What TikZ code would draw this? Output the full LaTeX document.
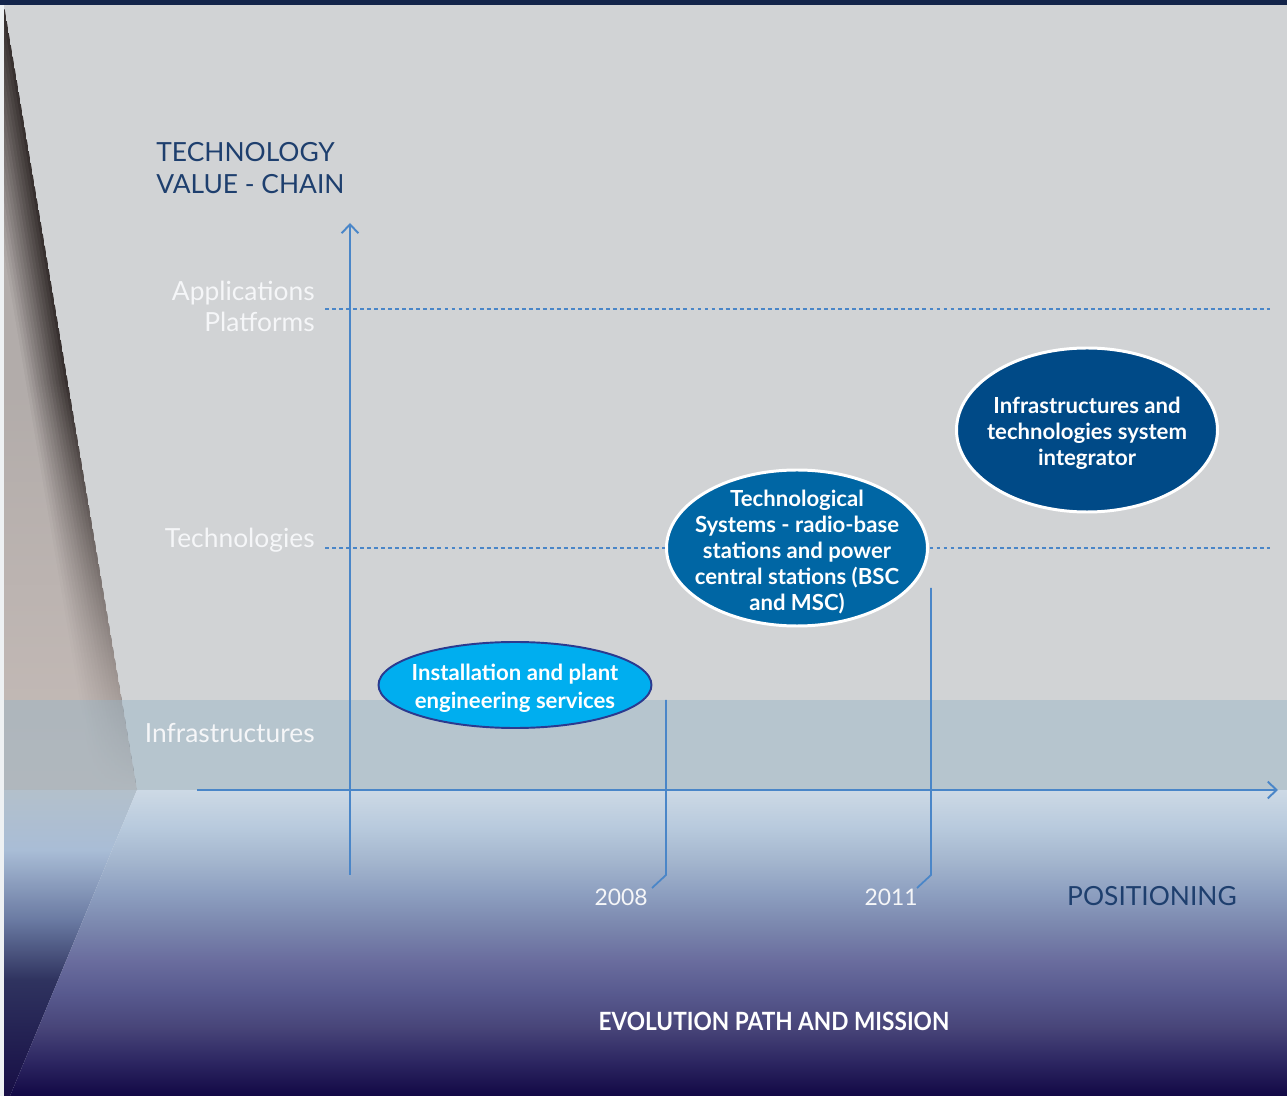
\documentclass[tikz,border=0pt]{standalone}
\usepackage{fontspec}
\setmainfont{Lato}
\newfontfamily\condfont{Lato}[FakeStretch=0.9]
\usepackage{tikz}
\usetikzlibrary{arrows.meta,shapes.geometric,fadings}

\definecolor{edgewhite}{HTML}{EEF1F3}
\definecolor{topnavy}{HTML}{13244A}
\definecolor{panelgray}{HTML}{D1D3D5}
\definecolor{wedgelight}{HTML}{B2ACAA}
\definecolor{wedgedark}{HTML}{383130}
\definecolor{wedgepale}{HTML}{C6BCB8}
\definecolor{bandblue}{HTML}{97B4C6}
\definecolor{axisblue}{HTML}{4A86C8}
\definecolor{titleblue}{HTML}{1E3F6E}
\definecolor{labelwhite}{HTML}{F5F6F8}
\definecolor{skyblue}{HTML}{00AEEF}
\definecolor{inkblue}{HTML}{2B3A8F}
\definecolor{midblue}{HTML}{0066A4}
\definecolor{deepblue}{HTML}{004A87}
% horizon colours
\definecolor{hzA}{HTML}{120845}
\definecolor{hzB}{HTML}{2E2863}
\definecolor{hzC}{HTML}{484579}
\definecolor{hzD}{HTML}{585A8F}
\definecolor{hzE}{HTML}{6A6D9E}
\definecolor{hzF}{HTML}{7A86AD}
\definecolor{hzG}{HTML}{8D9FC0}
\definecolor{hzH}{HTML}{A4B6CE}
\definecolor{hzI}{HTML}{B8CADD}
\definecolor{hzJ}{HTML}{CDD9E5}
\definecolor{lwA}{HTML}{170E45}
\definecolor{lwB}{HTML}{2F335F}
\definecolor{lwC}{HTML}{6A7AA2}
\definecolor{lwD}{HTML}{A9BDD6}
\definecolor{lwE}{HTML}{B3C0CB}

\pgfdeclareverticalshading{horizon}{100bp}{color(0bp)=(hzA);
  color(25bp)=(hzA); color(30.9bp)=(hzB); color(36.25bp)=(hzC);
  color(41.85bp)=(hzD); color(47.2bp)=(hzE); color(52.6bp)=(hzF);
  color(58.15bp)=(hzG); color(63.55bp)=(hzH); color(68.95bp)=(hzI);
  color(75bp)=(hzJ); color(100bp)=(hzJ)}
\pgfdeclareverticalshading{lowwedge}{100bp}{color(0bp)=(lwA);
  color(25bp)=(lwA); color(43.95bp)=(lwB); color(53.75bp)=(lwC);
  color(65.2bp)=(lwD); color(75bp)=(lwE); color(100bp)=(lwE)}

\tikzstyle{valueaxis} = [axisblue,line width=1.1pt,-{Straight Barb[length=5pt,width=9.5pt]}]
\tikzstyle{levelline} = [axisblue,line width=0.85pt,dash pattern=on 2.2pt off 1.8pt]
\tikzstyle{yearline} = [axisblue,line width=1pt]
\tikzstyle{bubble} = [ellipse,inner sep=0pt]
\tikzstyle{bubbletext} = [text=white,align=center,inner sep=0pt]
\tikzstyle{levellabel} = [anchor=east,align=right,inner sep=0pt,text=labelwhite,
  font=\fontsize{15}{17.6}\selectfont]
\tikzstyle{yearlabel} = [inner sep=0pt,text=labelwhite,font=\fontsize{13}{15}\selectfont]

\begin{document}
\begin{tikzpicture}[x=0.2mm,y=-0.2mm]

		% define constants
		\def \W {1287}
		\def \H {1096}
		\def \hz {790}
		\def \bandtop {700}

		\useasboundingbox (0,0) rectangle (\W,\H);

		% Draw the background
		\fill[edgewhite] (0,0) rectangle (\W,\H);
		\fill[topnavy] (0,0) rectangle (\W,5);
		\fill[panelgray] (4,5) rectangle (\W,\hz);

		% Draw the wedge on the left
		\begin{scope}
		\clip (4,5) -- (137,\hz) -- (4,\hz) -- cycle;
		\foreach \d in {0,3,...,138} {
			\pgfmathtruncatemacro\t{max(0,100-\d*2.4)}
			\fill[wedgedark!\t!wedgelight] (4-\d-4,5) -- (4-\d,5) -- (137-\d,\hz) -- (137-\d-4,\hz) -- cycle;
		}
		\fill[wedgepale,path fading=north] (0,380) rectangle (140,\hz);
		\end{scope}
		\shade[shading=lowwedge] (4,\hz) -- (137,\hz) -- (10,\H) -- (4,\H) -- cycle;
		\shade[shading=horizon] (137,\hz) -- (\W,\hz) -- (\W,\H) -- (10,\H) -- cycle;

		% Draw the infrastructure band
		\fill[bandblue,opacity=0.45] (4,\bandtop) rectangle (\W,\hz);

		% Draw the level lines
		\coordinate (appl) at (325,309);
		\coordinate (appr) at (1270,309);
		\coordinate (techl) at (325,548);
		\coordinate (techr) at (1270,548);
		\draw[levelline] (appl) -- (appr);
		\draw[levelline] (techl) -- (techr);

		% Draw the axes
		\coordinate (vbot) at (350,875);
		\coordinate (vtop) at (350,223);
		\coordinate (hleft) at (197,\hz);
		\coordinate (hright) at (1278,\hz);
		\draw[valueaxis] (vbot) -- (vtop);
		\draw[valueaxis] (hleft) -- (hright);

		% Draw the year markers
		\node[yearlabel] (y08) at (621,897) {2008};
		\node[yearlabel] (y11) at (891,897) {2011};
		\coordinate (top08) at (666,\bandtop);
		\coordinate (knee08) at (666,875);
		\coordinate (tip08) at (652,888);
		\coordinate (top11) at (931,588);
		\coordinate (knee11) at (931,875);
		\coordinate (tip11) at (917,888);
		\draw[yearline] (top08) -- (knee08) -- (tip08);
		\draw[yearline] (top11) -- (knee11) -- (tip11);

		% Draw the bubbles
		\node[bubble,fill=skyblue,draw=inkblue,line width=1.1pt,minimum width=54.6mm,minimum height=17.2mm] (inst) at (515,685) {};
		\node[bubbletext,font=\bfseries\fontsize{12.6}{15.9}\selectfont] (insttext) at (515,688) {Installation and plant\\engineering services};

		\node[bubble,fill=midblue,draw=white,line width=1.7pt,minimum width=52.2mm,minimum height=31.2mm] (techsys) at (797,548) {};
		\node[bubbletext,font=\bfseries\fontsize{12.6}{14.8}\selectfont] (techsystext) at (797,552) {Technological\\Systems - radio-base\\stations and power\\central stations (BSC\\and MSC)};

		\node[bubble,fill=deepblue,draw=white,line width=1.7pt,minimum width=52.2mm,minimum height=32.8mm] (integr) at (1087,430) {};
		\node[bubbletext,font=\bfseries\fontsize{12.6}{14.8}\selectfont] (integrtext) at (1087,433) {Infrastructures and\\technologies system\\integrator};

		% Draw the labels
		\node[anchor=west,align=left,inner sep=0pt,text=titleblue,font=\fontsize{15}{18.2}\selectfont] (chain) at (156,168) {TECHNOLOGY\\VALUE - CHAIN};
		\node[levellabel] (applab) at (315,306) {Applications\\Platforms};
		\node[levellabel] (techlab) at (315,540) {Technologies};
		\node[levellabel] (infralab) at (315,733) {Infrastructures};
		\node[inner sep=0pt,text=titleblue,font=\fontsize{15}{18}\selectfont] (posit) at (1152,896) {POSITIONING};
		\node[inner sep=0pt,text=white,font=\condfont\bfseries\fontsize{14.3}{17}\selectfont] (mission) at (774,1021) {EVOLUTION PATH AND MISSION};

\end{tikzpicture}
\end{document}
